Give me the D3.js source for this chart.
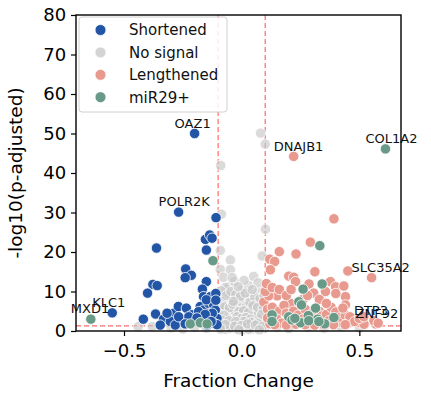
<!DOCTYPE html>
<html>
<head>
<meta charset="utf-8">
<script src="https://cdn.jsdelivr.net/npm/d3@7"></script>
<style>
  body { margin: 0; background: #fff; }
  text { font-family: "DejaVu Sans", sans-serif; }
</style>
</head>
<body>
<svg id="chart" width="431" height="397"></svg>
<script>
// [fraction change, -log10(p-adjusted)]
var noSignal = [
  [0.080,50.1],[0.100,47.3],[-0.089,41.9],[-0.086,29.6],[0.101,25.8],[-0.091,20.4],[-0.048,18.0],
  [-0.091,15.6],[-0.048,15.5],[-0.077,13.6],[-0.055,11.2],[-0.077,8.9],[0.087,19.0],[0.051,13.8],
  [0.037,9.4],[0.101,11.2],[-0.041,8.7],[-0.03,12.5],[0.0,10.5],[0.02,8.0],[-0.06,7.0],[0.06,7.5],
  [-0.02,6.5],[0.04,5.5],[-0.08,5.5],[0.075,5.0],[-0.05,4.5],[0.01,4.0],[-0.09,3.5],[0.09,3.5],
  [-0.035,3.0],[0.025,2.8],[0.055,2.5],[-0.065,2.2],[0.0,2.0],[-0.015,1.8],[0.035,1.6],[0.08,1.5],
  [-0.08,1.4],[-0.045,1.2],[0.015,1.0],[0.065,0.8],[-0.025,0.6],[0.045,0.5],[-0.07,0.4],[0.095,0.6],
  [-0.095,0.9],[0.005,0.3],[-0.055,9.5],[0.07,9.8],[-0.01,7.8],[0.03,11.5],[-0.07,11.0],[0.05,3.8],
  [-0.03,5.2],[0.085,6.5],[-0.085,7.5],[-0.005,5.8],[0.065,4.2],[-0.06,3.2],[0.02,6.2],[-0.04,2.0],
  [0.045,1.0],[-0.01,0.9],[0.09,2.2],[-0.095,2.6],[0.03,0.4],[-0.05,0.7],
  [-0.088,10.2],[-0.065,9.0],[-0.045,10.0],[-0.025,9.2],[-0.005,8.8],[0.015,9.6],[0.035,7.2],
  [0.055,8.6],[0.078,8.2],[0.095,8.9],[-0.092,6.4],[-0.072,6.1],[-0.052,5.9],[-0.038,6.8],
  [-0.012,4.9],[0.008,5.1],[0.028,4.6],[0.048,6.4],[0.068,6.0],[0.092,5.6],[-0.098,4.4],
  [-0.075,4.0],[-0.02,3.6],[0.0,3.2],[0.018,3.4],[0.038,3.0],[0.072,3.0],[0.085,4.2],
  [-0.085,2.8],[-0.055,2.6],[-0.025,2.4],[0.01,2.4],[0.042,2.2],[0.068,2.0],[-0.07,1.6],
  [-0.03,1.2],[0.0,1.4],[0.025,1.8],[0.058,1.5],[0.088,1.2],[-0.09,0.5],[-0.012,0.3],[0.075,0.3],
  [-0.04,13.5],[0.01,12.8],[0.07,12.2],[-0.015,11.2],[0.045,10.5],[-0.035,7.5],
  [-0.44,1.1],[-0.38,1.1],[-0.3,0.8],[-0.25,0.5],[-0.2,1.0],[-0.15,0.7],[0.15,0.9],[0.2,0.6],
  [0.28,1.0],[0.35,0.7],[0.42,1.1],[0.5,0.8]
];
var shortened = [
  [-0.200,50.0],[-0.268,30.1],[-0.109,28.7],[-0.154,23.2],[-0.136,24.3],[-0.126,23.5],[-0.150,20.5],
  [-0.238,15.7],[-0.214,14.1],[-0.240,13.5],[-0.150,12.5],[-0.167,10.6],[-0.162,8.7],
  [-0.362,21.0],[-0.377,11.8],[-0.359,11.5],[-0.400,9.6],[-0.550,4.6],[-0.418,3.0],[-0.366,4.3],
  [-0.332,3.0],[-0.288,4.5],[-0.269,6.2],[-0.235,5.8],[-0.211,4.1],[-0.176,6.2],[-0.162,5.3],
  [-0.140,7.0],[-0.119,6.6],[-0.112,5.3],[-0.133,3.6],[-0.105,3.2],[-0.176,2.8],[-0.204,2.4],
  [-0.254,2.4],[-0.303,2.4],[-0.346,1.5],[-0.282,1.5],[-0.147,1.5],[-0.119,2.0],[-0.133,8.7],
  [-0.150,7.9],[-0.183,4.9],[-0.225,3.6],[-0.268,3.6],[-0.317,4.5],[-0.110,9.5],[-0.125,4.5],
  [-0.155,4.2],[-0.190,3.3],[-0.240,1.8],[-0.105,1.6],[-0.130,2.4],[-0.110,7.8]
];
var lengthened = [
  [0.221,44.2],[0.392,28.4],[0.292,22.5],[0.160,20.1],[0.231,19.5],[0.119,18.2],[0.140,17.6],
  [0.122,15.5],[0.311,15.0],[0.451,15.2],[0.552,13.5],[0.200,13.9],[0.221,13.6],[0.229,12.5],
  [0.286,11.9],[0.377,12.5],[0.399,11.2],[0.434,11.4],[0.306,9.6],[0.356,10.0],[0.441,8.7],
  [0.151,8.9],[0.094,7.3],[0.115,8.9],[0.441,6.6],[0.207,7.0],[0.502,2.1],[0.569,1.8],[0.562,2.6],
  [0.470,2.8],[0.11,5.5],[0.13,6.0],[0.16,5.0],[0.18,6.5],[0.15,3.0],[0.17,2.0],[0.19,4.5],
  [0.22,5.0],[0.24,4.0],[0.27,5.5],[0.26,3.0],[0.29,2.0],[0.30,4.5],[0.33,5.0],[0.34,3.8],
  [0.36,4.2],[0.37,2.6],[0.38,6.0],[0.40,4.8],[0.41,2.2],[0.42,3.5],[0.44,4.0],[0.45,1.9],
  [0.43,5.8],[0.46,3.6],[0.48,2.4],[0.12,1.8],[0.14,1.6],[0.19,1.5],[0.23,1.7],[0.27,1.6],
  [0.31,1.5],[0.35,1.5],[0.39,1.6],[0.44,1.6],[0.52,1.7],[0.58,2.0],[0.50,3.2],[0.11,3.3],
  [0.10,10.0],[0.105,12.0],[0.13,11.0],[0.16,10.5],[0.19,9.0],[0.21,10.5],[0.26,8.0],[0.28,9.0],
  [0.33,8.0],[0.40,9.5],[0.36,7.0],[0.519,3.6]
];
var mir29 = [
  [-0.641,3.0],[-0.122,17.8],[-0.218,1.8],[-0.176,2.1],[-0.147,1.8],[0.611,46.1],[0.332,21.6],
  [0.342,11.9],[0.261,10.6],[0.243,7.4],[0.254,6.6],[0.314,5.8],[0.283,3.9],[0.323,3.0],[0.392,3.4],
  [0.353,1.8],[0.129,4.1],[0.129,2.4],[0.200,3.6],[0.214,2.8],[0.250,2.1],[0.226,3.2],[0.285,2.6],
  [0.328,2.4]
];
var geneLabels = [
  ["OAZ1",-0.200,50.0],["POLR2K",-0.268,30.1],["DNAJB1",0.221,44.2],["COL1A2",0.611,46.1],
  ["KLC1",-0.550,4.6],["MXD1",-0.641,3.0],["SLC35A2",0.552,13.5],["DTP3",0.562,2.6],["ZNF92",0.569,1.8]
];
var groups = ["Shortened","No signal","Lengthened","miR29+"];
var groupColors = ["#2355a6","#d4d4d4","#e89a8e","#689a87"];
var xTicks = [-0.5, 0.0, 0.5];
var yTicks = [0,10,20,30,40,50,60,70,80];

var svg = d3.select("#chart");
var margin = {top: 15, right: 30, bottom: 66, left: 76};
var W = 431, H = 397;

var x = d3.scaleLinear().domain([-0.704, 0.677]).range([margin.left, W - margin.right]);
var y = d3.scaleLinear().domain([0, 80]).range([H - margin.bottom, margin.top]);

// dashed threshold lines
var thr = svg.append("g")
    .attr("stroke", "#ff6a6a").attr("stroke-width", 1.2).attr("stroke-dasharray", "5,3");
[-0.1, 0.1].forEach(function(v) {
  thr.append("line").attr("x1", x(v)).attr("x2", x(v)).attr("y1", y(80)).attr("y2", y(0));
});
thr.append("line").attr("x1", x.range()[0]).attr("x2", x.range()[1])
    .attr("y1", y(-Math.log10(0.05))).attr("y2", y(-Math.log10(0.05)));

function drawDots(data, color, opacity) {
  svg.append("g").selectAll("circle")
    .data(data).enter().append("circle")
    .attr("cx", function(d) { return x(d[0]); })
    .attr("cy", function(d) { return y(d[1]); })
    .attr("r", 5.2)
    .attr("fill", color)
    .attr("fill-opacity", opacity)
    .attr("stroke", "#fff")
    .attr("stroke-width", 0.8);
}
drawDots(noSignal, "#c8c8c8", 0.65);
drawDots(shortened, groupColors[0], 1);
drawDots(lengthened, groupColors[2], 1);
drawDots(mir29, groupColors[3], 1);

// gene annotations
svg.append("g").selectAll("text")
  .data(geneLabels).enter().append("text")
  .attr("x", function(d) { return x(d[1]) - 20; })
  .attr("y", function(d) { return y(d[2]) - 5.7; })
  .attr("font-size", 13)
  .attr("fill", "#111")
  .text(function(d) { return d[0]; });

// axes
var xAxis = svg.append("g")
    .attr("transform", "translate(0," + (H - margin.bottom) + ")")
    .call(d3.axisBottom(x).tickValues(xTicks).tickFormat(function(d) { return d3.format(".1f")(d).replace("-", "\u2212"); }).tickSize(5).tickSizeOuter(0));
var yAxis = svg.append("g")
    .attr("transform", "translate(" + margin.left + ",0)")
    .call(d3.axisLeft(y).tickValues(yTicks).tickSize(5).tickSizeOuter(0));
[xAxis, yAxis].forEach(function(a) {
  a.select(".domain").remove();
  a.selectAll("line").attr("stroke", "#000").attr("stroke-width", 1.2);
  a.selectAll("text").attr("font-family", "DejaVu Sans").attr("font-size", 18).attr("fill", "#000");
});
xAxis.selectAll("text").attr("dy", "1.0em");
yAxis.selectAll("text").attr("dx", "-0.1em");

// frame
svg.append("rect")
  .attr("x", x.range()[0]).attr("y", y(80))
  .attr("width", x.range()[1] - x.range()[0]).attr("height", y(0) - y(80))
  .attr("fill", "none").attr("stroke", "#000").attr("stroke-width", 1.4);

svg.append("text")
  .attr("x", (x.range()[0] + x.range()[1]) / 2).attr("y", 387)
  .attr("text-anchor", "middle").attr("font-size", 18.5).attr("fill", "#000")
  .text("Fraction Change");
svg.append("text")
  .attr("transform", "translate(22," + ((y(0) + y(80)) / 2) + ") rotate(-90)")
  .attr("text-anchor", "middle").attr("font-size", 18.5).attr("fill", "#000")
  .text("-log10(p-adjusted)");

// legend
var lg = svg.append("g").attr("transform", "translate(79,17)");
lg.append("rect").attr("width", 148).attr("height", 95).attr("rx", 3)
  .attr("fill", "#fff").attr("fill-opacity", 0.85).attr("stroke", "#d0d0d0");
groups.forEach(function(g, i) {
  lg.append("circle").attr("cx", 21.5).attr("cy", 13 + i * 22.4).attr("r", 5.5)
    .attr("fill", groupColors[i]).attr("stroke", "#fff").attr("stroke-width", 0.8);
  lg.append("text").attr("x", 50).attr("y", 13 + i * 22.4).attr("dy", "0.36em")
    .attr("font-size", 15).attr("fill", "#111").text(g);
});
</script>
</body>
</html>
